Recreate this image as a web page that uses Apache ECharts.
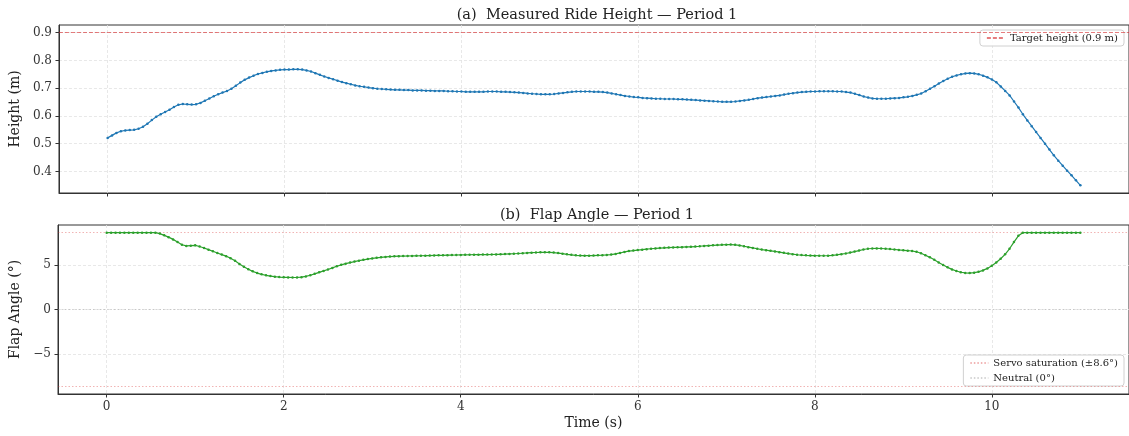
<!DOCTYPE html>
<html>
<head>
<meta charset="utf-8">
<script src="https://cdn.jsdelivr.net/npm/echarts@6/dist/echarts.min.js"></script>
<style>
  html, body { margin: 0; padding: 0; background: #fff; }
  #content { width: 1129px; height: 436px; }
</style>
</head>
<body>
<div id="content"></div>
<script>
// sample step of the logged data (s)
var dt = 0.05;

// measured ride height (m), one row per second
var heightRows = [
    [0.521, 0.530, 0.539, 0.545, 0.548, 0.549, 0.550, 0.554, 0.561, 0.572, 0.585, 0.597, 0.606, 0.614, 0.622, 0.632, 0.640, 0.643, 0.642, 0.641],
    [0.642, 0.647, 0.655, 0.663, 0.671, 0.678, 0.684, 0.690, 0.698, 0.709, 0.720, 0.730, 0.738, 0.745, 0.751, 0.755, 0.759, 0.762, 0.764, 0.766],
    [0.767, 0.767, 0.768, 0.768, 0.767, 0.764, 0.760, 0.754, 0.748, 0.742, 0.737, 0.732, 0.727, 0.722, 0.718, 0.714, 0.710, 0.707, 0.705, 0.702],
    [0.700, 0.698, 0.697, 0.696, 0.695, 0.694, 0.694, 0.693, 0.693, 0.692, 0.692, 0.692, 0.691, 0.691, 0.690, 0.690, 0.690, 0.689, 0.689, 0.688],
    [0.688, 0.687, 0.687, 0.687, 0.687, 0.687, 0.688, 0.688, 0.688, 0.687, 0.687, 0.686, 0.685, 0.684, 0.683, 0.681, 0.680, 0.679, 0.678, 0.678],
    [0.678, 0.679, 0.681, 0.683, 0.685, 0.687, 0.688, 0.688, 0.688, 0.688, 0.687, 0.687, 0.686, 0.684, 0.681, 0.678, 0.675, 0.672, 0.670, 0.668],
    [0.667, 0.665, 0.664, 0.663, 0.662, 0.662, 0.661, 0.661, 0.661, 0.660, 0.660, 0.659, 0.658, 0.657, 0.656, 0.655, 0.654, 0.653, 0.652, 0.651],
    [0.651, 0.651, 0.652, 0.654, 0.656, 0.658, 0.661, 0.664, 0.666, 0.668, 0.670, 0.672, 0.674, 0.677, 0.680, 0.682, 0.684, 0.686, 0.687, 0.688],
    [0.688, 0.689, 0.689, 0.689, 0.689, 0.688, 0.688, 0.686, 0.684, 0.680, 0.675, 0.670, 0.666, 0.663, 0.662, 0.662, 0.662, 0.663, 0.664, 0.665],
    [0.667, 0.669, 0.672, 0.676, 0.681, 0.689, 0.698, 0.707, 0.717, 0.726, 0.734, 0.741, 0.746, 0.750, 0.753, 0.754, 0.753, 0.750, 0.745, 0.739],
    [0.731, 0.721, 0.706, 0.690, 0.674, 0.652, 0.630, 0.606, 0.584, 0.563, 0.542, 0.521, 0.500, 0.479, 0.458, 0.439, 0.421, 0.403, 0.386, 0.368],
    [0.350]
];

// flap angle (deg), one row per second
var flapRows = [
    [8.6, 8.6, 8.6, 8.6, 8.6, 8.6, 8.6, 8.6, 8.6, 8.6, 8.6, 8.6, 8.50, 8.30, 8.10, 7.85, 7.55, 7.25, 7.12, 7.15],
    [7.18, 7.05, 6.88, 6.70, 6.52, 6.33, 6.15, 5.97, 5.75, 5.45, 5.10, 4.78, 4.50, 4.27, 4.08, 3.94, 3.83, 3.74, 3.67, 3.63],
    [3.60, 3.59, 3.58, 3.59, 3.62, 3.70, 3.83, 3.99, 4.16, 4.32, 4.48, 4.66, 4.84, 5.00, 5.13, 5.25, 5.36, 5.47, 5.56, 5.64],
    [5.72, 5.78, 5.84, 5.89, 5.93, 5.95, 5.97, 5.98, 5.99, 6.00, 6.01, 6.02, 6.03, 6.04, 6.05, 6.06, 6.07, 6.08, 6.09, 6.10],
    [6.11, 6.12, 6.13, 6.14, 6.14, 6.15, 6.15, 6.16, 6.17, 6.18, 6.20, 6.22, 6.24, 6.27, 6.30, 6.33, 6.36, 6.38, 6.40, 6.41],
    [6.40, 6.37, 6.32, 6.25, 6.18, 6.12, 6.07, 6.04, 6.03, 6.03, 6.04, 6.06, 6.08, 6.11, 6.15, 6.22, 6.33, 6.45, 6.54, 6.60],
    [6.65, 6.70, 6.75, 6.80, 6.84, 6.88, 6.91, 6.93, 6.95, 6.96, 6.98, 7.00, 7.02, 7.05, 7.08, 7.12, 7.15, 7.18, 7.21, 7.24],
    [7.26, 7.27, 7.24, 7.17, 7.08, 6.98, 6.89, 6.80, 6.71, 6.64, 6.57, 6.50, 6.42, 6.34, 6.26, 6.19, 6.13, 6.09, 6.06, 6.04],
    [6.03, 6.02, 6.02, 6.03, 6.06, 6.12, 6.19, 6.27, 6.37, 6.48, 6.60, 6.72, 6.80, 6.83, 6.84, 6.83, 6.80, 6.76, 6.72, 6.67],
    [6.63, 6.59, 6.55, 6.46, 6.30, 6.08, 5.84, 5.56, 5.26, 4.98, 4.72, 4.49, 4.31, 4.17, 4.10, 4.08, 4.12, 4.22, 4.38, 4.60],
    [4.90, 5.26, 5.68, 6.18, 6.80, 7.55, 8.25, 8.6, 8.6, 8.6, 8.6, 8.6, 8.6, 8.6, 8.6, 8.6, 8.6, 8.6, 8.6, 8.6],
    [8.6]
];

var timeTicks = [0, 2, 4, 6, 8, 10];
var heightTicks = [0.4, 0.5, 0.6, 0.7, 0.8, 0.9];
var flapTicks = [-5, 0, 5];

var targetHeight = 0.9;
var servoLimit = 8.6;
var neutralAngle = 0;

var height = [].concat.apply([], heightRows);
var flap = [].concat.apply([], flapRows);
var heightData = height.map(function (v, i) { return [+(i * dt).toFixed(2), v]; });
var flapData = flap.map(function (v, i) { return [+(i * dt).toFixed(2), v]; });

var FONT = 'DejaVu Serif';
var gridLine = { show: true, lineStyle: { color: '#e2e2e2', type: [3, 2], width: 0.8 } };
var minus = function (v) { return String(v).replace('-', '\u2212'); };
var nameStyle = { fontFamily: FONT, fontSize: 14, color: '#222' };
var tickFont = { fontFamily: FONT, fontSize: 12, color: '#333' };

function xAxisFor(idx, showLabels) {
    return {
        type: 'value', gridIndex: idx, min: -0.55, max: 11.55,
        axisLine: { show: true, onZero: false, lineStyle: { color: '#333', width: 1 } },
        axisTick: { show: true, length: 3.5, customValues: timeTicks, lineStyle: { color: '#333' } },
        axisLabel: Object.assign({ show: showLabels, customValues: timeTicks, margin: 7 }, tickFont),
        splitLine: gridLine,
        name: showLabels ? 'Time (s)' : '', nameLocation: 'middle', nameGap: 22,
        nameTextStyle: nameStyle
    };
}

function legendFor(names, top) {
    return {
        data: names, right: 5, top: top, orient: 'vertical',
        itemWidth: 18, itemHeight: 8, itemGap: 5, padding: [3, 6],
        borderColor: '#d0d0d0', borderWidth: 1, borderRadius: 3,
        backgroundColor: 'rgba(255,255,255,0.85)',
        itemStyle: { opacity: 0 },
        textStyle: { fontFamily: FONT, fontSize: 10, color: '#222' }
    };
}

var myChart = echarts.init(document.getElementById('content'));
myChart.setOption({
    animation: false,
    title: [
        { text: '(a)  Measured Ride Height \u2014 Period 1', left: 592, top: 3, textAlign: 'center',
          textStyle: { fontFamily: FONT, fontSize: 14.5, fontWeight: 'normal', color: '#222' } },
        { text: '(b)  Flap Angle \u2014 Period 1', left: 592, top: 203, textAlign: 'center',
          textStyle: { fontFamily: FONT, fontSize: 14.5, fontWeight: 'normal', color: '#222' } }
    ],
    grid: [
        { left: 54, top: 25, width: 1076, height: 168, show: true, borderColor: '#333', borderWidth: 1 },
        { left: 54, top: 225, width: 1076, height: 169, show: true, borderColor: '#333', borderWidth: 1 }
    ],
    legend: [
        legendFor(['Target height (0.9 m)'], 30),
        legendFor(['Servo saturation (\u00b18.6\u00b0)', 'Neutral (0\u00b0)'], 355)
    ],
    xAxis: [xAxisFor(0, false), xAxisFor(1, true)],
    yAxis: [
        {
            type: 'value', gridIndex: 0, min: 0.3225, max: 0.9275,
            axisLine: { show: true, onZero: false, lineStyle: { color: '#333' } },
            axisTick: { show: true, length: 3.5, customValues: heightTicks, lineStyle: { color: '#333' } },
            axisLabel: Object.assign({ customValues: heightTicks, margin: 7,
                         formatter: function (v) { return v.toFixed(1); } }, tickFont),
            splitLine: gridLine,
            name: 'Height (m)', nameLocation: 'middle', nameGap: 36,
            nameTextStyle: nameStyle
        },
        {
            type: 'value', gridIndex: 1, min: -9.46, max: 9.46,
            axisLine: { show: true, onZero: false, lineStyle: { color: '#333' } },
            axisTick: { show: true, length: 3.5, customValues: flapTicks, lineStyle: { color: '#333' } },
            axisLabel: Object.assign({ customValues: flapTicks, margin: 7, formatter: minus }, tickFont),
            splitLine: gridLine,
            name: 'Flap Angle (\u00b0)', nameLocation: 'middle', nameGap: 36,
            nameTextStyle: nameStyle
        }
    ],
    series: [
        {
            name: 'Target height (0.9 m)', type: 'line', xAxisIndex: 0, yAxisIndex: 0, data: [],
            symbol: 'none', lineStyle: { color: 'rgba(214,39,40,0.6)', type: [4, 2], width: 1 },
            itemStyle: { color: 'rgba(214,39,40,0.6)' },
            markLine: { silent: true, symbol: 'none', label: { show: false },
                        lineStyle: { color: 'rgba(214,39,40,0.6)', type: [4, 2], width: 1 },
                        data: [{ yAxis: targetHeight }] }
        },
        {
            name: 'Height', type: 'line', xAxisIndex: 0, yAxisIndex: 0, data: heightData,
            symbol: 'circle', symbolSize: 2.5, showAllSymbol: true,
            lineStyle: { color: '#1f77b4', width: 1.2 }, itemStyle: { color: '#1f77b4' }, z: 5
        },
        {
            name: 'Servo saturation (\u00b18.6\u00b0)', type: 'line', xAxisIndex: 1, yAxisIndex: 1, data: [],
            symbol: 'none', lineStyle: { color: 'rgba(214,39,40,0.35)', type: [1.5, 2], width: 1 },
            itemStyle: { color: 'rgba(214,39,40,0.35)' },
            markLine: { silent: true, symbol: 'none', label: { show: false },
                        lineStyle: { color: 'rgba(214,39,40,0.35)', type: [1.5, 2], width: 1 },
                        data: [{ yAxis: servoLimit }, { yAxis: -servoLimit }] }
        },
        {
            name: 'Neutral (0\u00b0)', type: 'line', xAxisIndex: 1, yAxisIndex: 1, data: [],
            symbol: 'none', lineStyle: { color: 'rgba(150,150,150,0.4)', type: [1.5, 2], width: 1 },
            itemStyle: { color: 'rgba(150,150,150,0.4)' },
            markLine: { silent: true, symbol: 'none', label: { show: false },
                        lineStyle: { color: 'rgba(150,150,150,0.4)', type: [1.5, 2], width: 1 },
                        data: [{ yAxis: neutralAngle }] }
        },
        {
            name: 'Flap', type: 'line', xAxisIndex: 1, yAxisIndex: 1, data: flapData,
            symbol: 'circle', symbolSize: 2.5, showAllSymbol: true,
            lineStyle: { color: '#2ca02c', width: 1.2 }, itemStyle: { color: '#2ca02c' }, z: 5
        }
    ]
});
</script>
</body>
</html>
